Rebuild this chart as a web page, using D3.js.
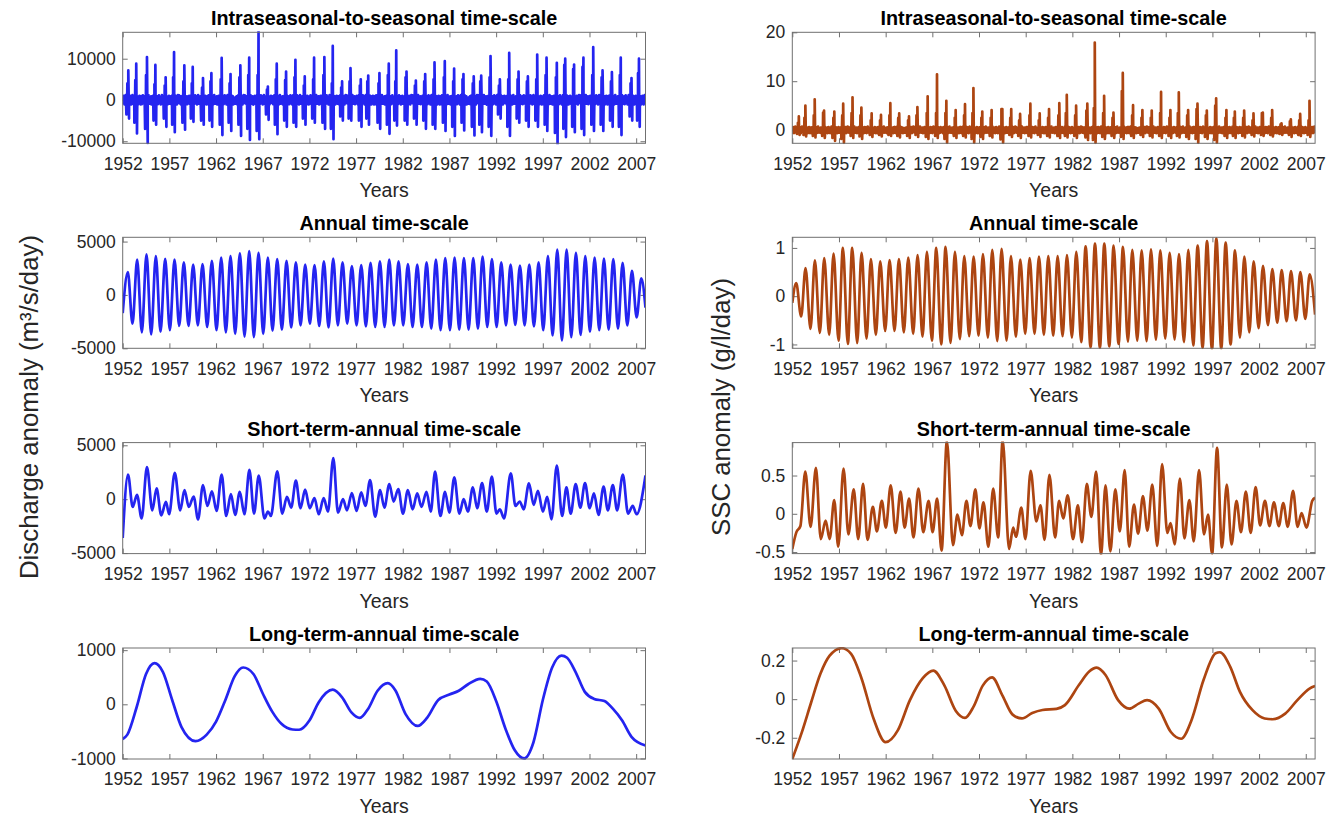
<!DOCTYPE html>
<html lang="en">
<head>
  <meta charset="UTF-8">
  <title>Discharge and SSC anomalies by time-scale</title>
  <script src="https://d3js.org/d3.v7.min.js"></script>
  <style>
    body { margin: 0; background: #fff; }
    svg text { font-family: "Liberation Sans", Arial, Helvetica, sans-serif; fill: #262626; }
    .tick text { font-size: 17.5px; }
    .panel-title { font-size: 19.8px; font-weight: bold; fill: #000; }
    .xlab { font-size: 19.5px; }
    .ylab { font-size: 25.8px; }
    .frame { fill: none; stroke: #707070; stroke-width: 1; }
  </style>
</head>
<body>
<div id="chart"></div>
<script>

// ---------- data ----------
var years = d3.range(1952, 2008);          // 56 years, 1952..2007
var xTicks = d3.range(1952, 2008, 5);

// Discharge (m3/s/day), intraseasonal: per-year spike cluster
var qIntraPhase = [.6,.45,.6,.5,.6,.5,.6,.5,.6,.5, .6,.55,.6,.55,.55,.55,.5,.5,.5,.5,
  .5,.6,.5,.5,.4,.5,.3,.5,.5,.3, .4,.4,.4,.4,.5,.5,.5,.6,.4,.4,
  .4,.4,.4,.4,.4,.4,.5,.4,.35,.35, .4,.4,.4,.35,.5,.3];
var qIntraPeak = [7150,8800,10400,8500,5500,11600,8400,8000,5300,6500,
  10200,6300,8400,10250,16500,3250,8800,6900,9750,5700,
  10250,10400,13100,4500,7700,5000,5900,6500,8800,12000,
  6900,4700,6300,9100,9400,7600,6300,5700,5900,10650,
  5000,11400,6900,5700,11000,10250,9000,10000,8600,10250,
  12800,7150,6750,10250,5300,10000];
var qIntraSecond = [4000,4800,6000,3800,3500,5500,4500,4000,3000,4500,
  5000,4000,5500,6000,6000,2500,5000,4800,5500,3500,
  5000,6000,4000,3000,4500,3500,4500,4000,6000,4500,
  5500,3500,4500,5000,5500,4500,5000,4000,4500,5500,
  3500,5000,5000,4500,5000,6000,5500,8500,7500,8000,
  6000,5500,4500,6000,4000,6500];
var qIntraTrough = [-4500,-8100,-10500,-6000,-6500,-7800,-7200,-5300,-6000,-6500,
  -8500,-7500,-8700,-9700,-9500,-4800,-8300,-6500,-6500,-6000,
  -5500,-7000,-9500,-5000,-5000,-6500,-6000,-7000,-8200,-6200,
  -6000,-6000,-7000,-7000,-7500,-8700,-7400,-8600,-7800,-8700,
  -4500,-8700,-5500,-6500,-6500,-7500,-10800,-9000,-7800,-8500,
  -7500,-7500,-6500,-8500,-5000,-6500];
var qIntraTrough2 = [-3500,-5500,-7000,-5000,-4500,-6000,-5500,-4500,-5000,-5000,
  -6000,-5500,-6000,-7000,-7500,-3500,-6000,-5000,-5500,-4500,
  -4500,-5500,-7000,-4000,-4500,-5000,-4500,-5500,-6000,-5000,
  -5000,-4500,-5000,-6000,-5500,-6500,-5500,-6500,-6000,-6500,
  -3500,-6500,-4500,-5000,-5000,-6000,-8000,-7000,-6500,-7000,
  -6000,-6000,-5000,-6500,-4000,-5000];
var qIntraRipple = [500,-800,1000,-600,300,-1100,800,-400,1200,-700,600,-900,400,
  -500,900,-1000,700,-300,1100,-800,200,-600,900,-1100,500];

// Discharge, annual: peaks (year+0.55) and troughs (year+0.05)
var qAnnStartEnd = [-1700, -1200];
var qAnnPeak = [2150,3300,3800,3650,3370,3300,3050,2850,2900,3200,
  3500,3650,3900,4100,3950,3500,3350,3200,3050,2850,
  2800,3150,3400,3050,2700,2800,3000,3150,3300,3150,
  2900,2850,3050,3300,3450,3500,3450,3450,3600,3350,
  3050,2850,2750,2850,3050,3650,4250,4250,3950,3650,
  3500,3400,3350,3000,2250,1550];
var qAnnTrough = [-2700,-3500,-3700,-3450,-3300,-2900,-2900,-2850,-3000,-3300,
  -3500,-3650,-3900,-3950,-3650,-3350,-3250,-3050,-2850,-2700,
  -2900,-3050,-2850,-2700,-2850,-2950,-3000,-3000,-2850,-2850,
  -3000,-3000,-3150,-3300,-3300,-3250,-3250,-3150,-3000,-3000,
  -2850,-2800,-2850,-2950,-3300,-3800,-4250,-3950,-3750,-3450,
  -3300,-3250,-3150,-2850,-2100];

// Discharge, short-term-annual: [year, value] turning points
var qShort = [[1952.0,-3600],[1952.57,2280],[1953.07,-720],[1953.53,400],[1954.03,-1780],
  [1954.6,2970],[1955.17,-1030],[1955.63,1000],[1956.13,-1500],[1956.63,-250],[1956.97,-1400],
  [1957.58,2440],[1958.16,-1030],[1958.62,840],[1959.08,-720],[1959.6,250],[1960.07,-1870],
  [1960.6,1310],[1961.07,-625],[1961.56,720],[1962.06,-1090],[1962.6,2280],[1963.09,-1560],
  [1963.59,470],[1964.05,-1470],[1964.54,690],[1965.04,-1400],[1965.57,2720],[1966.07,-1340],
  [1966.57,2190],[1967.18,-1780],[1967.56,-1150],[1967.87,-1560],[1968.56,2590],[1969.09,-1340],
  [1969.59,220],[1970.05,-780],[1970.55,1720],[1971.04,-840],[1971.54,880],[1972.04,-840],
  [1972.54,90],[1973.0,-1400],[1973.53,90],[1973.99,-1150],[1974.56,3810],[1975.06,-1250],
  [1975.6,0],[1976.02,-1030],[1976.55,560],[1977.05,-1090],[1977.55,630],[1978.0,-625],
  [1978.5,1780],[1979.04,-1620],[1979.57,840],[1980.03,-780],[1980.56,1400],[1981.02,-220],
  [1981.52,940],[1982.02,-1340],[1982.55,840],[1983.05,-940],[1983.55,530],[1984.01,-720],
  [1984.54,690],[1985.0,-1150],[1985.46,2560],[1986.03,-1560],[1986.53,690],[1986.99,-1250],
  [1987.52,2030],[1988.06,-1340],[1988.52,0],[1988.98,-1150],[1989.51,1090],[1989.97,-840],
  [1990.5,1500],[1991.0,-1150],[1991.54,2090],[1992.04,-1340],[1992.4,-940],[1992.85,-1780],
  [1993.57,2400],[1994.07,-625],[1994.53,-220],[1994.95,-940],[1995.52,1470],[1996.02,-530],
  [1996.48,780],[1997.01,-1150],[1997.47,220],[1997.93,-1870],[1998.5,3120],[1999.07,-1560],
  [1999.53,1090],[1999.99,-1340],[2000.52,1400],[2001.02,-780],[2001.52,1500],[2002.02,-840],
  [2002.48,530],[2002.97,-1470],[2003.51,1160],[2003.97,-1030],[2004.5,1310],[2004.96,-1030],
  [2005.57,2280],[2006.13,-1340],[2006.63,-625],[2007.05,-1400],[2008.0,2200]];

// Discharge, long-term-annual
var qLong = [[1952.0,-640],[1952.5,-560],[1953.5,-50],[1954.5,560],[1955.4,760],[1956.3,600],
  [1957.3,80],[1958.3,-420],[1959.8,-680],[1961.0,-560],[1962.0,-320],[1963.0,80],[1964.0,520],
  [1964.9,680],[1966.0,560],[1967.0,200],[1968.0,-130],[1969.0,-360],[1970.2,-465],[1970.9,-470],
  [1972.0,-300],[1973.0,40],[1974.5,270],[1975.5,130],[1976.5,-150],[1977.4,-250],[1978.3,-80],
  [1979.3,250],[1980.4,390],[1981.2,260],[1982.3,-180],[1983.6,-400],[1984.6,-250],[1985.8,80],
  [1987.0,180],[1988.0,250],[1989.0,370],[1990.3,470],[1991.0,420],[1992.0,60],[1993.0,-450],
  [1994.0,-850],[1995.0,-1000],[1996.0,-700],[1997.0,80],[1998.0,680],[1999.0,900],[1999.6,860],
  [2000.5,600],[2001.5,230],[2002.5,100],[2003.6,60],[2004.5,-80],[2005.5,-300],[2006.5,-600],
  [2008.0,-760]];

// SSC (g/l/day), intraseasonal
var sIntraPhase = [.7,.4,.4,.4,.5,.45,.45,.4,.5,.5, .5,.45,.5,.4,.5,.5,.5,.5,.5,.4,
  .35,.35,.5,.45,.4,.5,.5,.5,.6,.4, .4,.6,.4,.4,.4,.4,.5,.5,.5,.5,
  .5,.4,.4,.4,.4,.4,.5,.4,.4,.4, .4,.4,.4,.4,.4,.4];
var sIntraPeak = [2.8,5.0,6.3,4.0,3.8,5.4,6.7,4.6,3.4,3.1,
  5.5,3.4,2.8,4.7,6.9,11.4,6.0,4.1,5.3,8.6,
  3.8,4.1,4.3,4.3,3.3,5.4,3.4,4.3,5.5,7.2,
  5.0,5.4,17.9,7.0,3.6,11.7,5.1,4.1,4.0,7.8,
  4.1,7.7,4.1,5.4,4.0,6.5,4.1,3.8,4.0,3.4,
  3.6,4.1,1.4,2.2,3.3,6.0];
var sIntraSecond = [1.5,2.5,3.0,3.6,2.5,3.0,3.5,3.0,2.0,2.0,
  3.0,2.5,2.0,3.0,3.5,3.5,3.5,2.5,3.0,3.5,
  2.5,2.5,4.3,2.5,2.0,3.0,2.0,2.5,3.0,3.5,
  3.0,4.0,4.5,3.5,2.5,8.0,3.0,2.5,2.5,3.5,
  2.5,3.5,3.0,4.3,3.0,5.0,2.5,2.5,2.5,2.0,
  3.5,2.5,1.2,1.8,2.0,2.0];
var sIntraTrough = [-1.0,-1.3,-1.5,-1.6,-2.2,-2.6,-1.6,-1.8,-1.4,-1.3,
  -1.2,-1.5,-1.6,-1.4,-1.8,-1.6,-2.6,-1.6,-1.5,-2.6,
  -1.8,-1.5,-2.6,-1.4,-1.6,-1.5,-1.4,-1.5,-1.6,-1.5,
  -1.6,-2.0,-2.6,-1.8,-1.6,-1.8,-1.6,-1.4,-1.5,-1.6,
  -1.6,-1.5,-1.8,-2.6,-1.8,-2.6,-1.6,-1.6,-1.5,-1.3,
  -1.2,-1.3,-1.0,-1.4,-1.2,-1.4];
var sIntraTrough2 = [-0.8,-1.0,-1.2,-1.2,-1.6,-1.8,-1.2,-1.3,-1.0,-1.0,
  -1.0,-1.2,-1.2,-1.0,-1.4,-1.2,-1.8,-1.2,-1.2,-1.8,
  -1.4,-1.2,-1.9,-1.0,-1.2,-1.2,-1.0,-1.2,-1.2,-1.2,
  -1.2,-1.5,-2.0,-1.4,-1.2,-1.4,-1.2,-1.0,-1.2,-1.2,
  -1.2,-1.2,-1.4,-1.8,-1.4,-2.0,-1.2,-1.2,-1.2,-1.0,
  -1.0,-1.0,-0.8,-1.0,-1.0,-1.0];
var sIntraRipple = [0.3,-0.5,0.6,-0.3,0.2,-0.6,0.5,-0.2,0.7,-0.4,0.4,-0.5,0.3,
  -0.3,0.5,-0.6,0.4,-0.2,0.6,-0.5,0.2,-0.4,0.5,-0.6,0.3];

// SSC, annual: peaks (year+0.42) and troughs (year+0.95)
var sAnnStartEnd = [-0.14, -0.38];
var sAnnPeak = [0.27,0.58,0.74,0.79,0.88,1.0,1.0,0.9,0.77,0.72,
  0.75,0.77,0.8,0.85,0.92,1.0,1.02,0.92,0.83,0.82,
  0.87,0.96,0.98,0.83,0.76,0.79,0.82,0.83,0.83,0.85,
  0.92,1.03,1.09,1.09,1.05,1.02,0.96,0.95,0.97,0.95,
  0.9,0.87,0.96,1.05,1.14,1.2,1.11,0.95,0.82,0.72,
  0.63,0.56,0.54,0.52,0.5,0.45];
var sAnnTrough = [-0.42,-0.68,-0.76,-0.8,-0.92,-0.99,-0.97,-0.88,-0.8,-0.72,
  -0.72,-0.75,-0.78,-0.84,-0.92,-1.0,-0.97,-0.89,-0.83,-0.82,
  -0.86,-0.93,-0.92,-0.84,-0.78,-0.78,-0.8,-0.82,-0.83,-0.86,
  -0.95,-1.06,-1.07,-1.04,-0.99,-0.94,-0.92,-0.93,-0.9,-0.88,
  -0.9,-0.95,-1.02,-1.07,-1.1,-1.09,-1.0,-0.86,-0.75,-0.66,
  -0.6,-0.55,-0.52,-0.5,-0.47];

// SSC, short-term-annual
var sShort = [[1952.0,-0.46],[1952.44,-0.24],[1952.87,-0.16],[1953.39,0.55],[1953.96,-0.17],
  [1954.53,0.6],[1955.05,-0.33],[1955.57,-0.09],[1956.0,-0.33],[1956.49,0.18],[1956.92,-0.43],
  [1957.49,0.59],[1958.01,-0.27],[1958.58,0.32],[1959.06,-0.33],[1959.58,0.39],[1960.06,-0.34],
  [1960.63,0.09],[1961.06,-0.23],[1961.59,0.17],[1962.02,-0.18],[1962.54,0.37],[1963.07,-0.25],
  [1963.59,0.29],[1964.03,-0.18],[1964.51,0.2],[1964.98,-0.31],[1965.51,0.33],[1966.03,-0.24],
  [1966.6,0.17],[1967.03,-0.24],[1967.51,0.2],[1967.99,-0.48],[1968.56,0.95],[1969.21,-0.41],
  [1969.69,-0.01],[1970.17,-0.28],[1970.65,0.17],[1971.08,-0.16],[1971.61,0.32],[1972.04,-0.19],
  [1972.48,0.15],[1973.0,-0.43],[1973.52,0.33],[1974.05,-0.31],[1974.53,0.96],[1975.22,-0.46],
  [1975.66,-0.18],[1975.96,-0.3],[1976.53,0.08],[1976.97,-0.33],[1977.53,0.56],[1978.14,-0.1],
  [1978.58,0.11],[1979.02,-0.34],[1979.54,0.51],[1980.15,-0.31],[1980.58,0.17],[1981.02,-0.06],
  [1981.5,0.24],[1982.07,-0.33],[1982.59,0.11],[1983.02,-0.37],[1983.55,0.39],[1984.03,-0.04],
  [1984.55,0.55],[1985.07,-0.54],[1985.55,0.37],[1986.07,-0.49],[1986.6,0.32],[1987.08,-0.23],
  [1987.6,0.57],[1988.08,-0.43],[1988.6,0.12],[1989.04,-0.26],[1989.56,0.23],[1990.04,-0.22],
  [1990.56,0.38],[1991.09,-0.42],[1991.61,0.65],[1992.17,-0.25],[1992.52,-0.12],[1992.96,-0.4],
  [1993.52,0.46],[1994.0,-0.32],[1994.53,0.18],[1995.0,-0.36],[1995.57,0.57],[1996.1,-0.27],
  [1996.53,-0.01],[1996.97,-0.52],[1997.5,0.86],[1998.02,-0.44],[1998.54,0.38],[1999.05,-0.4],
  [1999.58,0.17],[2000.06,-0.24],[2000.58,0.29],[2001.1,-0.25],[2001.63,0.35],[2002.11,-0.15],
  [2002.63,0.17],[2003.11,-0.16],[2003.59,0.15],[2004.11,-0.16],[2004.59,0.14],[2005.07,-0.17],
  [2005.64,0.3],[2006.12,-0.17],[2006.55,0.01],[2007.07,-0.18],[2007.7,0.17],[2008.0,0.21]];

// SSC, long-term-annual
var sLong = [[1952.0,-0.31],[1953.0,-0.175],[1954.0,-0.02],[1955.0,0.13],[1956.0,0.225],
  [1957.3,0.264],[1958.3,0.235],[1959.4,0.11],[1960.7,-0.1],[1962.0,-0.223],[1963.3,-0.162],
  [1964.6,-0.005],[1966.0,0.11],[1967.1,0.148],[1968.3,0.07],[1969.5,-0.06],[1970.5,-0.097],
  [1971.4,-0.04],[1972.4,0.07],[1973.4,0.113],[1974.5,0.02],[1975.6,-0.08],[1976.6,-0.1],
  [1977.7,-0.072],[1978.8,-0.056],[1980.3,-0.05],[1981.2,-0.031],[1982.7,0.073],[1983.8,0.143],
  [1984.6,0.163],[1985.55,0.125],[1986.9,-0.005],[1988.1,-0.049],[1989.1,-0.023],[1990.0,-0.005],
  [1991.25,-0.049],[1992.55,-0.17],[1993.65,-0.205],[1994.75,-0.11],[1996.05,0.099],[1997.35,0.238],
  [1997.8,0.243],[1998.9,0.169],[1999.95,0.038],[2001.3,-0.057],[2002.6,-0.1],[2003.45,-0.104],
  [2004.8,-0.075],[2006.1,-0.005],[2007.4,0.055],[2008.0,0.068]];

// axis limits and ticks
var xLim = [1952, 2008];
var qLims = [[-10500, 16400], [-5000, 5400], [-5050, 5250], [-1010, 1040]];
var qTicks = [[-10000, 0, 10000], [-5000, 0, 5000], [-5000, 0, 5000], [-1000, 0, 1000]];
var sLims = [[-2.7, 20], [-1.08, 1.22], [-0.52, 0.93], [-0.31, 0.265]];
var sTicks = [[0, 10, 20], [-1, 0, 1], [-0.5, 0, 0.5], [-0.2, 0, 0.2]];
var titles = ["Intraseasonal-to-seasonal time-scale", "Annual time-scale",
  "Short-term-annual time-scale", "Long-term-annual time-scale"];

// ---------- build point lists ----------
function buildIntra(phase, peak, second, trough, trough2, ripple) {
  var pts = [];
  years.forEach(function(yr, i) {
    ripple.forEach(function(r, k) {
      pts.push([yr + k / ripple.length, ripple[(k + 7 * i) % ripple.length]]);
    });
    var tp = yr + phase[i];
    pts.push([tp - 0.2, trough2[i]], [tp - 0.1, second[i]], [tp, peak[i]], [tp + 0.08, trough[i]]);
  });
  pts.push([2008, ripple[0]]);
  return pts.sort(function(a, b) { return a[0] - b[0]; });
}

function buildAnnual(startEnd, peaks, troughs, peakOff, troughOff, troughFirst) {
  var pts = [[1952, startEnd[0]]];
  years.forEach(function(yr, i) {
    pts.push([yr + peakOff, peaks[i]]);
  });
  troughs.forEach(function(v, i) {
    pts.push([1952 + troughFirst + i + troughOff, v]);
  });
  pts.push([2008, startEnd[1]]);
  return pts.sort(function(a, b) { return a[0] - b[0]; });
}

var qSeries = [
  buildIntra(qIntraPhase, qIntraPeak, qIntraSecond, qIntraTrough, qIntraTrough2, qIntraRipple),
  buildAnnual(qAnnStartEnd, qAnnPeak, qAnnTrough, 0.55, 0.05, 1),
  qShort, qLong];
var sSeries = [
  buildIntra(sIntraPhase, sIntraPeak, sIntraSecond, sIntraTrough, sIntraTrough2, sIntraRipple),
  buildAnnual(sAnnStartEnd, sAnnPeak, sAnnTrough, 0.42, 0.95, 0),
  sShort, sLong];

// ---------- layout ----------
var W = 1337, H = 817;
var colLeft = [122.7, 792.3];
var plotW = 522.8, plotH = 111;
var rowTop = [32.3, 237.3, 442.6, 648];
var colors = ["#2424f0", "#ad4511"];
var curves = [d3.curveLinear, d3.curveMonotoneX, d3.curveMonotoneX, d3.curveMonotoneX];

var svg = d3.select("#chart").append("svg")
  .attr("width", W)
  .attr("height", H);

function drawPanel(col, row, series, lim, ticks, idx) {
  var left = colLeft[col], top = rowTop[row];
  var x = d3.scaleLinear().domain(xLim).range([left, left + plotW]);
  var y = d3.scaleLinear().domain(lim).range([top + plotH, top]);

  var clipId = "clip" + idx;
  svg.append("clipPath").attr("id", clipId)
    .append("rect")
    .attr("x", left).attr("y", top - 1)
    .attr("width", plotW).attr("height", plotH + 2);

  // ticks on all four sides, pointing inwards
  var gb = svg.append("g")
    .attr("transform", "translate(0," + (top + plotH) + ")")
    .call(d3.axisBottom(x).tickValues(xTicks).tickFormat(d3.format("d"))
      .tickSizeInner(-5).tickSizeOuter(0).tickPadding(14));
  var gt = svg.append("g")
    .attr("transform", "translate(0," + top + ")")
    .call(d3.axisTop(x).tickValues(xTicks).tickFormat("")
      .tickSizeInner(-5).tickSizeOuter(0));
  var gl = svg.append("g")
    .attr("transform", "translate(" + left + ",0)")
    .call(d3.axisLeft(y).tickValues(ticks).tickFormat(function(d) { return String(d); })
      .tickSizeInner(-5).tickSizeOuter(0).tickPadding(7));
  var gr = svg.append("g")
    .attr("transform", "translate(" + (left + plotW) + ",0)")
    .call(d3.axisRight(y).tickValues(ticks).tickFormat("")
      .tickSizeInner(-5).tickSizeOuter(0));
  [gb, gt, gl, gr].forEach(function(g) {
    g.attr("color", "#707070");
    g.select(".domain").remove();
  });

  svg.append("path")
    .datum(series)
    .attr("clip-path", "url(#" + clipId + ")")
    .attr("fill", "none")
    .attr("stroke", colors[col])
    .attr("stroke-width", 2.7)
    .attr("stroke-linejoin", "round")
    .attr("d", d3.line()
      .x(function(d) { return x(d[0]); })
      .y(function(d) { return y(d[1]); })
      .curve(curves[row]));

  svg.append("rect")
    .attr("class", "frame")
    .attr("x", left).attr("y", top)
    .attr("width", plotW).attr("height", plotH);

  svg.append("text")
    .attr("class", "panel-title")
    .attr("x", left + plotW / 2)
    .attr("y", top - 7)
    .attr("text-anchor", "middle")
    .text(titles[row]);

  svg.append("text")
    .attr("class", "xlab")
    .attr("x", left + plotW / 2)
    .attr("y", top + plotH + 54)
    .attr("text-anchor", "middle")
    .text("Years");
}

for (var r = 0; r < 4; r++) {
  drawPanel(0, r, qSeries[r], qLims[r], qTicks[r], r);
  drawPanel(1, r, sSeries[r], sLims[r], sTicks[r], r + 4);
}

// big y labels
svg.append("text")
  .attr("class", "ylab")
  .attr("transform", "translate(38,407) rotate(-90)")
  .attr("text-anchor", "middle")
  .text("Discharge anomaly (m³/s/day)");

svg.append("text")
  .attr("class", "ylab")
  .attr("transform", "translate(730,407) rotate(-90)")
  .attr("text-anchor", "middle")
  .text("SSC anomaly (g/l/day)");

</script>
</body>
</html>
